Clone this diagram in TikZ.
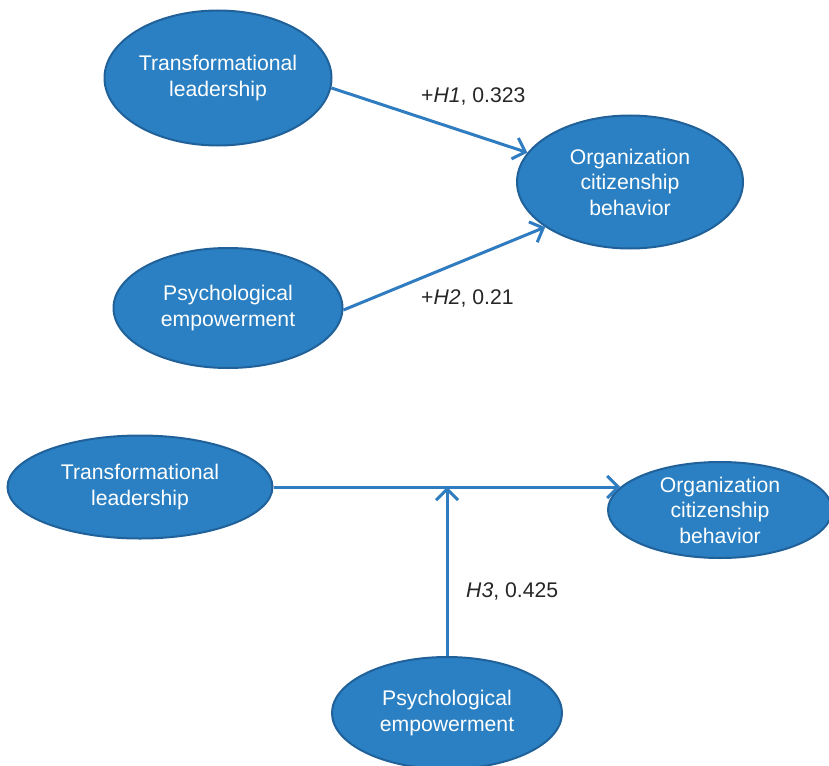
\documentclass[tikz,border=0pt]{standalone}
\usepackage{fontspec}
\setmainfont{Liberation Sans}
\usetikzlibrary{shapes.geometric,arrows.meta}
\definecolor{efill}{HTML}{2A80C2}
\definecolor{eline}{HTML}{21619A}
\definecolor{aline}{HTML}{2F7DC0}
\tikzset{
  oval/.style={ellipse, fill=efill, draw=eline, line width=2pt, inner sep=0pt,
    text=white, align=center, font=\fontsize{21.2}{25.5}\selectfont},
  link/.style={draw=aline, line width=3pt, -{Straight Barb[length=11pt,width=22pt,line width=3pt]}},
  lbl/.style={font=\fontsize{21.2}{25.5}\selectfont, text=black!85, inner sep=0pt}
}
\begin{document}
\begin{tikzpicture}[x=1pt,y=-1pt]
\useasboundingbox (0,0) rectangle (829,765);
% top panel
\node[oval, minimum width=227pt, minimum height=135pt] (tl1) at (218,78) {Transformational\\leadership};
\node[oval, minimum width=226pt, minimum height=133pt] (oc1) at (630,182) {Organization\\citizenship\\behavior};
\node[oval, minimum width=229pt, minimum height=120pt] (pe1) at (228,308) {Psychological\\empowerment};
\draw[link] (tl1.-5) -- (oc1.164);
\draw[link] (pe1.-1) -- (oc1.208);
\node[lbl, anchor=west] (h1) at (421,96) {+\textit{H1}, 0.323};
\node[lbl, anchor=west] (h2) at (421,298) {+\textit{H2}, 0.21};
% bottom panel
\node[oval, minimum width=265pt, minimum height=103pt] (tl2) at (140,487) {Transformational\\leadership};
\node[oval, minimum width=224pt, minimum height=96pt] (oc2) at (720,510) {Organization\\citizenship\\behavior};
\node[oval, minimum width=230pt, minimum height=112pt] (pe2) at (447,713) {Psychological\\empowerment};
\coordinate (mid) at (pe2.north |- tl2.east);
\draw[link] (tl2.east) -- (tl2.east -| oc2.167);
\draw[link] (pe2.north) -- (mid);
\node[lbl, anchor=west] (h3) at (466,591) {\textit{H3}, 0.425};
\end{tikzpicture}
\end{document}
